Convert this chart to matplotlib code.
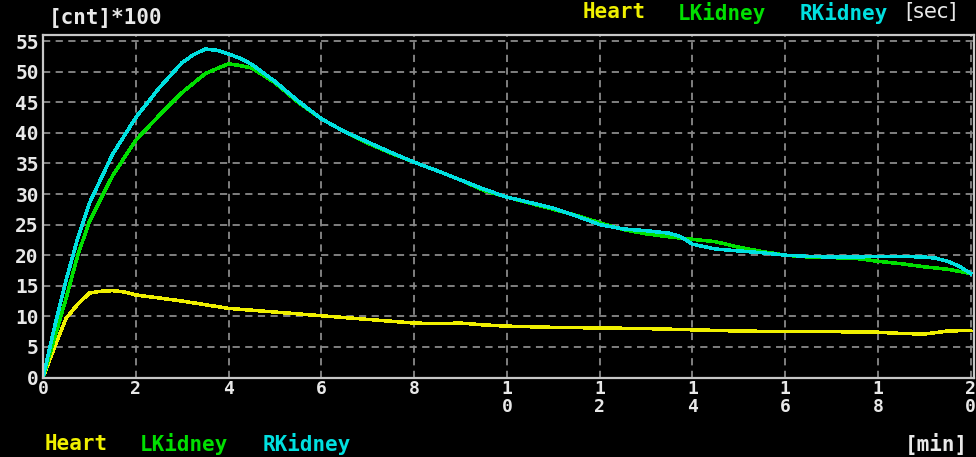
import matplotlib
matplotlib.use("Agg")
import matplotlib.pyplot as plt

# ---- data ----
t_r = [0, 0.25, 0.5, 0.75, 1, 1.5, 2, 2.5, 3, 3.25, 3.5, 3.75, 4, 4.25, 4.5, 5, 5.5, 6,
       6.5, 7, 7.5, 8, 8.5, 9, 9.5, 10, 10.5, 11, 11.5, 12, 12.5, 13, 13.5, 13.75, 14,
       14.5, 15, 15.5, 16, 16.5, 17, 17.5, 18, 18.5, 19, 19.25, 19.5, 19.75, 20]
rkidney = [0, 8.3, 16, 22.8, 28.5, 36.5, 42.5, 47.3, 51.5, 52.8, 53.7, 53.5, 52.9, 52.2,
           51.2, 48.4, 45.2, 42.3, 40.2, 38.5, 36.8, 35.2, 33.8, 32.3, 30.8, 29.5, 28.6,
           27.7, 26.4, 25.0, 24.3, 24.0, 23.6, 23.0, 21.8, 21.0, 20.7, 20.4, 20.0, 19.8,
           19.7, 19.7, 19.8, 19.8, 19.7, 19.5, 19.0, 18.2, 17.0]

t_l = [0, 0.25, 0.5, 0.75, 1, 1.5, 2, 2.5, 3, 3.5, 4, 4.25, 4.5, 5, 5.5, 6, 6.5, 7, 7.5,
       8, 8.5, 9, 9.5, 10, 10.5, 11, 11.5, 12, 12.5, 13, 13.5, 14, 14.5, 15, 15.5, 16,
       16.5, 17, 17.5, 18, 18.5, 19, 19.5, 20]
lkidney = [0, 6.5, 13, 20, 25.5, 33, 38.8, 42.8, 46.6, 49.7, 51.3, 51.0, 50.6, 48.2, 45.0,
           42.3, 40.2, 38.3, 36.7, 35.2, 33.8, 32.3, 30.6, 29.5, 28.5, 27.5, 26.5, 25.3,
           24.2, 23.5, 23.0, 22.6, 22.2, 21.3, 20.6, 20.0, 19.7, 19.6, 19.5, 19.0, 18.6,
           18.1, 17.7, 17.0]

t_h = [0, 0.25, 0.5, 0.75, 1, 1.25, 1.5, 1.75, 2, 2.5, 3, 3.5, 4, 4.5, 5, 5.5, 6, 6.5, 7,
       7.5, 8, 8.5, 9, 9.5, 10, 11, 12, 13, 14, 15, 16, 17, 18, 18.5, 19, 19.5, 20]
heart = [0, 5, 9.7, 12, 13.8, 14.1, 14.2, 14.0, 13.5, 13.0, 12.5, 11.9, 11.3, 11.0, 10.7,
         10.4, 10.1, 9.8, 9.5, 9.2, 8.9, 8.8, 8.9, 8.6, 8.4, 8.2, 8.1, 8.0, 7.8, 7.6, 7.5,
         7.5, 7.4, 7.2, 7.1, 7.6, 7.7]

x_ticks = [0, 2, 4, 6, 8, 10, 12, 14, 16, 18, 20]
x_labels = ["0", "2", "4", "6", "8", "1\n0", "1\n2", "1\n4", "1\n6", "1\n8", "2\n0"]
y_ticks = [0, 5, 10, 15, 20, 25, 30, 35, 40, 45, 50, 55]

names = ["Heart", "LKidney", "RKidney"]
colors = ["#f0f000", "#00e000", "#00e0e0"]

# ---- plot ----
W, H = 976, 457
fig = plt.figure(figsize=(W / 100, H / 100), dpi=100, facecolor="black")
ax = fig.add_axes([43 / W, 1 - 377.5 / H, (974 - 43) / W, (377.5 - 35) / H], facecolor="black")

font = dict(family="DejaVu Sans Mono", weight="bold")
txtcol = "#e8e8e8"

ax.set_xlim(0, 20.07)
ax.set_ylim(0, 56.0)
ax.set_xticks(x_ticks)
ax.set_xticklabels(x_labels, linespacing=1.0, **font, fontsize=13, color=txtcol)
ax.set_yticks(y_ticks)
ax.set_yticklabels([str(v) for v in y_ticks], **font, fontsize=14, color=txtcol)
ax.tick_params(axis="both", length=0, pad=3)
ax.tick_params(axis="x", pad=2)
ax.grid(True, color="#8a8a8a", linestyle=(0, (4, 3)), linewidth=1.3)
ax.set_axisbelow(True)
for s in ax.spines.values():
    s.set_color("#c8c8c8")
    s.set_linewidth(1.6)

ax.plot(t_h, heart, color=colors[0], lw=1.8, antialiased=False)
ax.plot(t_l, lkidney, color=colors[1], lw=1.8, antialiased=False)
ax.plot(t_r, rkidney, color=colors[2], lw=1.8, antialiased=False)

# title
fig.text(49 / W, 1 - 18 / H, "[cnt]*100", color=txtcol, fontsize=15, va="center", ha="left", **font)

# top legend
top_x = [583, 678, 800]
for x, n, c in zip(top_x, names, colors):
    fig.text(x / W, 1 - 2 / H, n, color=c, fontsize=15, va="top", ha="left", **font)
fig.text(905 / W, 1 - 2 / H, "[sec]", color=txtcol, fontsize=15, va="top", ha="left",
         family="DejaVu Sans", weight="normal")

# bottom legend
bot_x = [45, 140, 263]
for x, n, c in zip(bot_x, names, colors):
    fig.text(x / W, 1 - 444 / H, n, color=c, fontsize=15, va="center", ha="left", **font)
fig.text(905 / W, 1 - 444 / H, "[min]", color=txtcol, fontsize=15, va="center", ha="left", **font)

fig.savefig("out.png", dpi=100, facecolor="black")
